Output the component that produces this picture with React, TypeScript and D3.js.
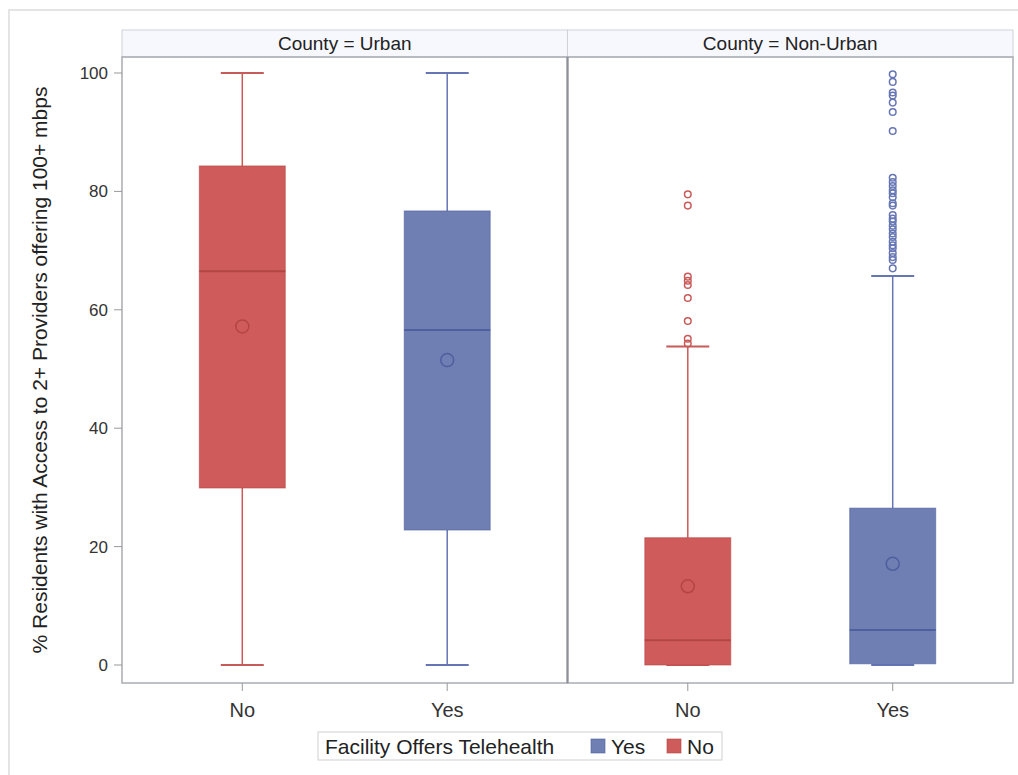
import React from "react";
import * as d3 from "d3";

// Panel (county type) and category names
const panels = ["Urban", "Non-Urban"];
const categories = ["No", "Yes"];
const legendItems = ["Yes", "No"];
const yTicks = [0, 20, 40, 60, 80, 100];

// Five-number summaries + mean per panel/category: [min, q1, median, q3, max, mean]
const urbanNo = [0, 29.9, 66.5, 84.3, 100, 57.2];
const urbanYes = [0, 22.8, 56.6, 76.7, 100, 51.5];
const nonUrbanNo = [0, 0, 4.2, 21.5, 53.8, 13.3];
const nonUrbanYes = [0, 0.2, 5.9, 26.5, 65.7, 17.1];

// Outliers
const nonUrbanNoOutliers = [79.5, 77.6, 65.6, 64.9, 64.2, 62.0, 58.1, 55.1, 54.3];
const nonUrbanYesOutliers = [
  99.8, 98.5, 96.7, 96.2, 95.0, 93.4, 90.2, 82.3, 81.6, 80.9, 80.2, 79.7, 79.0,
  78.0, 77.6, 76.0, 75.4, 74.9, 74.2, 73.6, 72.9, 72.3, 71.5, 70.9, 70.4, 69.6,
  68.9, 68.4, 67.0,
];

const W = 1018;
const H = 775;
const plotLeft = 122;
const plotRight = 1013;
const headerTop = 30;
const plotTop = 57;
const plotBottom = 683;

const colors: Record<string, { fill: string; line: string; whisker: string }> = {
  Yes: { fill: "#6F7EB3", line: "#4E5F9E", whisker: "#6676B4" },
  No: { fill: "#D05B5B", line: "#B24643", whisker: "#C85A58" },
};

const FONT = "'Liberation Sans', Arial, sans-serif";

type Box = { panel: string; cat: string; stats: number[]; outliers: number[] };
const boxes: Box[] = [
  { panel: "Urban", cat: "No", stats: urbanNo, outliers: [] },
  { panel: "Urban", cat: "Yes", stats: urbanYes, outliers: [] },
  { panel: "Non-Urban", cat: "No", stats: nonUrbanNo, outliers: nonUrbanNoOutliers },
  { panel: "Non-Urban", cat: "Yes", stats: nonUrbanYes, outliers: nonUrbanYesOutliers },
];

export default function App() {
  const y = d3.scaleLinear().domain([0, 100]).range([665, 73]);
  const panelScale = d3.scaleBand().domain(panels).range([plotLeft, plotRight]);
  const pw = panelScale.bandwidth();
  const xIn = d3.scalePoint().domain(categories).range([0, pw]).padding(0.587);
  const boxW = pw * 0.193;
  const capW = boxW * 0.5;
  const divider = panelScale("Non-Urban")!;

  return (
    <svg
      width={W}
      height={H}
      style={{ position: "absolute", left: 0, top: 0, background: "#fff" }}
      fontFamily={FONT}
    >
      {/* outer frame */}
      <rect x={9} y={10} width={1200} height={1000} fill="none" stroke="#e4e4e4" strokeWidth={2} />

      {/* panel headers */}
      {panels.map((p) => (
        <g key={p}>
          <rect
            x={panelScale(p)!}
            y={headerTop}
            width={pw}
            height={plotTop - headerTop}
            fill="#F6F8FD"
            stroke="#cfd2d8"
            strokeWidth={1}
          />
          <text
            x={panelScale(p)! + pw / 2}
            y={50}
            textAnchor="middle"
            fontSize={19}
            fill="#222"
          >
            {`County = ${p}`}
          </text>
        </g>
      ))}

      {/* panel frames */}
      {panels.map((p) => (
        <rect
          key={p}
          x={panelScale(p)!}
          y={plotTop}
          width={pw}
          height={plotBottom - plotTop}
          fill="none"
          stroke="#a9acb2"
          strokeWidth={1.5}
        />
      ))}
      <line x1={divider} x2={divider} y1={plotTop} y2={plotBottom} stroke="#8d9096" strokeWidth={2} />

      {/* y axis */}
      {yTicks.map((t) => (
        <g key={t}>
          <line x1={114} x2={plotLeft} y1={y(t)} y2={y(t)} stroke="#999" strokeWidth={1} />
          <text x={108} y={y(t) + 6} textAnchor="end" fontSize={17} fill="#333">
            {t}
          </text>
        </g>
      ))}
      <text
        transform={`translate(47,${(plotTop + plotBottom) / 2}) rotate(-90)`}
        textAnchor="middle"
        fontSize={21}
        fill="#222"
      >
        % Residents with Access to 2+ Providers offering 100+ mbps
      </text>

      {/* x axis ticks */}
      {panels.map((p) =>
        categories.map((c) => {
          const cx = panelScale(p)! + xIn(c)!;
          return (
            <g key={p + c}>
              <line x1={cx} x2={cx} y1={plotBottom} y2={plotBottom + 8} stroke="#999" />
              <text x={cx} y={717} textAnchor="middle" fontSize={20} fill="#333">
                {c}
              </text>
            </g>
          );
        })
      )}

      {/* boxes */}
      {boxes.map((b) => {
        const cx = panelScale(b.panel)! + xIn(b.cat)!;
        const [mn, q1, med, q3, mx, mean] = b.stats;
        const col = colors[b.cat];
        return (
          <g key={b.panel + b.cat}>
            <line x1={cx} x2={cx} y1={y(q3)} y2={y(mx)} stroke={col.whisker} strokeWidth={1.5} />
            <line x1={cx} x2={cx} y1={y(q1)} y2={y(mn)} stroke={col.whisker} strokeWidth={1.5} />
            <line x1={cx - capW / 2} x2={cx + capW / 2} y1={y(mx)} y2={y(mx)} stroke={col.whisker} strokeWidth={2} />
            <line x1={cx - capW / 2} x2={cx + capW / 2} y1={y(mn)} y2={y(mn)} stroke={col.whisker} strokeWidth={2} />
            <rect
              x={cx - boxW / 2}
              y={y(q3)}
              width={boxW}
              height={Math.max(y(q1) - y(q3), 0)}
              fill={col.fill}
              stroke={col.line}
              strokeOpacity={0.6}
              strokeWidth={1}
            />
            <line x1={cx - boxW / 2} x2={cx + boxW / 2} y1={y(med)} y2={y(med)} stroke={col.line} strokeWidth={2} />
            <circle cx={cx} cy={y(mean)} r={6.5} fill="none" stroke={col.line} strokeWidth={1.5} />
            {b.outliers.map((o, i) => (
              <circle key={i} cx={cx} cy={y(o)} r={3.3} fill="none" stroke={col.whisker} strokeWidth={1.5} />
            ))}
          </g>
        );
      })}

      {/* legend */}
      <g>
        <rect x={318} y={732} width={404} height={28} fill="#fff" stroke="#cfcfcf" />
        <text x={325} y={754} fontSize={21} fill="#222">
          Facility Offers Telehealth
        </text>
        {legendItems.map((c, i) => {
          const lx = i === 0 ? 591 : 667;
          return (
            <g key={c}>
              <rect x={lx} y={739} width={14} height={14} fill={colors[c].fill} stroke={colors[c].line} strokeOpacity={0.6} />
              <text x={lx + 20} y={754} fontSize={21} fill="#222">
                {c}
              </text>
            </g>
          );
        })}
      </g>
    </svg>
  );
}
